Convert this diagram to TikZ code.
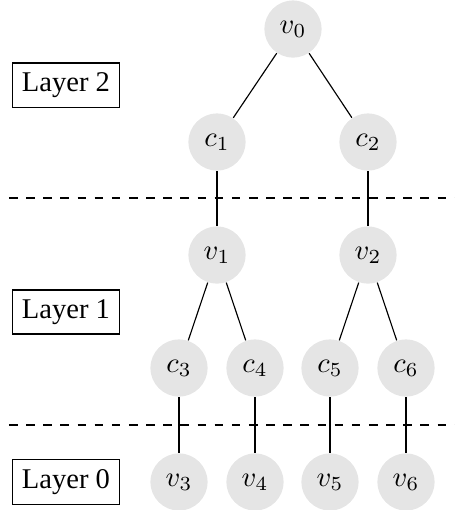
\documentclass[tikz,border=0pt]{standalone}
\usepackage[no-math]{fontspec}
\setmainfont{Liberation Serif}
\tikzset{
  vert/.style={circle, fill=black!10, minimum size=20pt, inner sep=0pt},
  layerbox/.style={draw, rectangle},
  layerline/.style={dashed}
}

\begin{document}
\begin{tikzpicture}[x=0.35pt, y=-0.35pt]
			%%%%% START %%%%%
			\useasboundingbox (0, 0) rectangle (455, 510);
			
			% layer boundaries
			\coordinate (l2a) at (9, 198);
			\coordinate (l2b) at (455, 198);
			\coordinate (l1a) at (9, 425);
			\coordinate (l1b) at (455, 425);
			\draw[layerline] (l2a) -- (l2b);
			\draw[layerline] (l1a) -- (l1b);
			
			\node[layerbox] (lay2) at (66, 85) {Layer 2};
			\node[layerbox] (lay1) at (66, 312) {Layer 1};
			\node[layerbox] (lay0) at (66, 482) {Layer 0};
			
			% top
			\node[vert] (v0) at (293, 29) {$v_0$};
			\node[vert] (c1) at (217, 142) {$c_1$};
			\node[vert] (c2) at (368, 142) {$c_2$};
			
			% middle
			\node[vert] (v1) at (217, 255) {$v_1$};
			\node[vert] (v2) at (368, 255) {$v_2$};
			\node[vert] (c3) at (179, 368) {$c_3$};
			\node[vert] (c4) at (255, 368) {$c_4$};
			\node[vert] (c5) at (330, 368) {$c_5$};
			\node[vert] (c6) at (406, 368) {$c_6$};
			
			% bottom
			\node[vert] (v3) at (179, 482) {$v_3$};
			\node[vert] (v4) at (255, 482) {$v_4$};
			\node[vert] (v5) at (330, 482) {$v_5$};
			\node[vert] (v6) at (406, 482) {$v_6$};
			
			\draw (v0) -- (c1);
			\draw (v0) -- (c2);
			\draw (c1) -- (v1);
			\draw (c2) -- (v2);
			\draw (v1) -- (c3);
			\draw (v1) -- (c4);
			\draw (v2) -- (c5);
			\draw (v2) -- (c6);
			\draw (c3) -- (v3);
			\draw (c4) -- (v4);
			\draw (c5) -- (v5);
			\draw (c6) -- (v6);
			%%%%% END %%%%%
\end{tikzpicture}
\end{document}
